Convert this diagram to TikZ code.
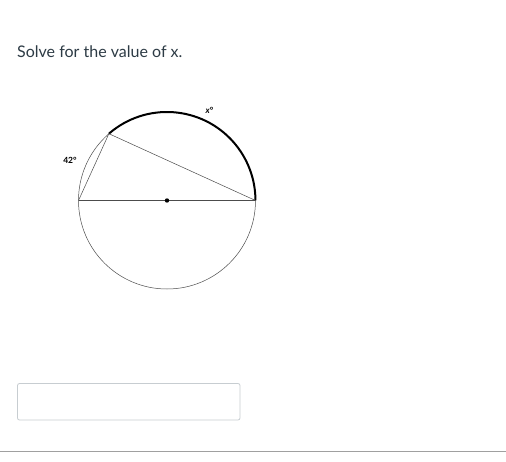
\documentclass[tikz,border=0pt]{standalone}
\usepackage{fontspec}
\setmainfont{Lato}
\definecolor{txt}{HTML}{2D3B45}
\definecolor{boxgray}{HTML}{C7CDD1}
\definecolor{rulegray}{HTML}{A0A0A0}
\begin{document}
\begin{tikzpicture}[x=1pt,y=-1pt,
  thinline/.style={line width=0.5pt,black!70},
  thickarc/.style={line width=2pt,black},
  lbl/.style={font=\fontsize{8.5}{10}\selectfont\bfseries,inner sep=0pt}]
\useasboundingbox (0,0) rectangle (506,461);
\fill[white] (0,0) rectangle (506,461);
\node[anchor=base west,inner sep=0pt,text=txt,font=\fontsize{16}{19}\selectfont] (q) at (17,57.3) {Solve for the value of x.};
\coordinate (O) at (167,200.5);
\coordinate (L) at (78.5,200.5);
\coordinate (R) at (255.5,200.5);
\coordinate (A) at (108.9,133.7);
\draw[thinline] (O) circle (88.5);
\draw[thickarc] (A) arc[start angle=-131,end angle=0,radius=88.5];
\draw[thinline] (L) -- (R);
\draw[thinline] (L) -- (A) -- (R);
\fill (O) circle (2.2);
\node[lbl] (x) at (209.5,110) {\textit{x}°};
\node[lbl] (a) at (70,160.5) {42°};
\draw[boxgray,line width=0.8pt,rounded corners=2pt] (17.5,383.5) rectangle (240,420);
\draw[rulegray,line width=1pt] (0,451.5) -- (506,451.5);
\end{tikzpicture}
\end{document}
